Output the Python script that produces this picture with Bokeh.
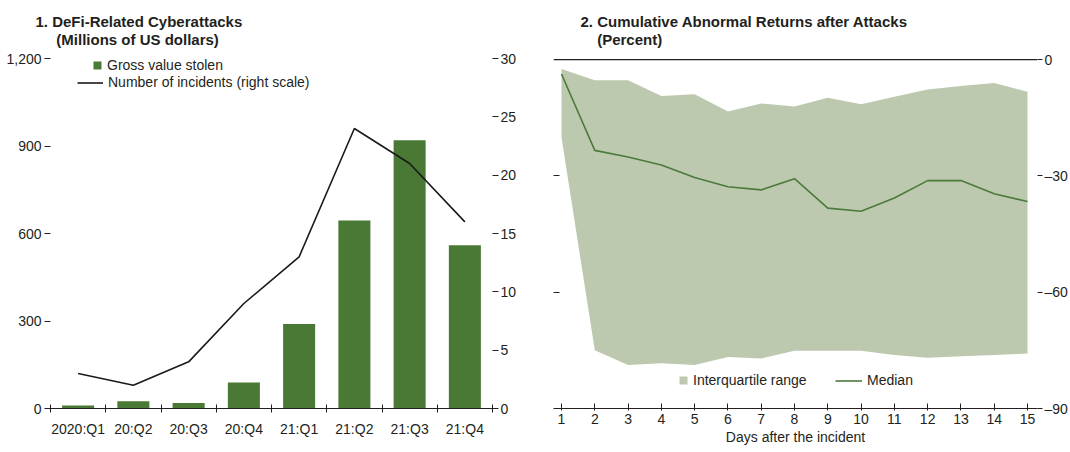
from bokeh.plotting import figure
from bokeh.models import (Range1d, LinearAxis, FixedTicker, NumeralTickFormatter,
                          Legend, LegendItem, Title, Span, ColumnDataSource)
from bokeh.layouts import row
from bokeh.embed import file_html
from bokeh.resources import INLINE

# ---------------- data ----------------
quarters = ["2020:Q1", "20:Q2", "20:Q3", "20:Q4", "21:Q1", "21:Q2", "21:Q3", "21:Q4"]
value_stolen = [10, 25, 19, 89, 290, 645, 920, 560]
incidents = [3, 2, 4, 9, 13, 24, 21, 16]

days = list(range(1, 16))
iqr_upper = [-2.4, -5.3, -5.3, -9.4, -8.9, -13.4, -11.3, -12.1, -9.8, -11.5, -9.6, -7.7, -6.8, -6.0, -8.3]
iqr_lower = [-20.0, -75.0, -78.8, -78.3, -78.8, -76.7, -77.1, -75.1, -75.1, -75.1, -76.2, -76.9, -76.5, -76.2, -75.8]
median = [-3.7, -23.4, -25.1, -27.2, -30.4, -32.8, -33.6, -30.7, -38.3, -39.1, -35.7, -31.2, -31.2, -34.6, -36.6]

left_ticks = [0, 300, 600, 900, 1200]
right_ticks = [0, 5, 10, 15, 20, 25, 30]
ret_ticks = [0, -30, -60, -90]

FONT = "Liberation Sans"
TXT = "#231f20"
BAR = "#4a7935"
BAND = "#bcc9ae"
MED = "#4c7a3c"
FS = "14px"

FRAME_H = 353


def style_axis(ax, size=FS):
    ax.major_label_text_font = FONT
    ax.major_label_text_font_size = size
    ax.major_label_text_color = TXT
    ax.axis_line_color = TXT
    ax.major_tick_line_color = TXT
    ax.minor_tick_line_color = TXT
    ax.axis_label_text_font = FONT
    ax.axis_label_text_color = TXT


def add_titles(p, line1, line2, x1, indent):
    text = line1 + "\n" + "\u00a0" * indent + line2
    p.add_layout(Title(text=text, align="left", offset=x1, text_font=FONT,
                       text_font_size="15px", text_font_style="bold",
                       text_line_height=1.05, text_color=TXT, standoff=21), "above")


def make_legend(renderer, label, x, y, gw, gh):
    return Legend(items=[LegendItem(label=label, renderers=[renderer])],
                  location=(x, y), glyph_width=gw, glyph_height=gh, label_height=17,
                  padding=0, margin=0, spacing=0, label_standoff=5, border_line_color=None,
                  background_fill_alpha=0, label_text_font=FONT, label_text_font_size=FS,
                  label_text_color=TXT, label_text_baseline="middle")


# ---------------- panel 1 ----------------
n = len(quarters)
centers = [i + 0.5 for i in range(n)]
src1 = ColumnDataSource(dict(x=centers, v=value_stolen, k=incidents))

p1 = figure(width=541, height=452, output_backend="svg", toolbar_location=None,
            x_range=Range1d(0, n), y_range=Range1d(0, 1200),
            min_border_left=50, min_border_right=49, min_border_top=55, min_border_bottom=44)
p1.extra_y_ranges = {"n": Range1d(0, 30)}
p1.grid.visible = False
p1.outline_line_color = None

bars = p1.vbar(x="x", top="v", width=0.58, source=src1, fill_color=BAR, line_color=None)
ln = p1.line(x="x", y="k", source=src1, y_range_name="n", line_color="#1a1a1a", line_width=1.6)

xa = p1.xaxis[0]
xa.ticker = FixedTicker(ticks=centers, minor_ticks=list(range(n + 1)))
xa.major_label_overrides = {c: q for c, q in zip(centers, quarters)}
xa.major_tick_in = 0
xa.major_tick_out = 0
xa.minor_tick_in = 4
xa.minor_tick_out = 4
xa.major_label_standoff = 8
style_axis(xa)

ya = p1.yaxis[0]
ya.ticker = FixedTicker(ticks=left_ticks)
ya.formatter = NumeralTickFormatter(format="0,0")
style_axis(ya)
ya.axis_line_color = None
ya.major_tick_in = 0
ya.major_tick_out = 6
ya.major_label_standoff = 3
ya.minor_tick_line_color = None

ra = LinearAxis(y_range_name="n", ticker=FixedTicker(ticks=right_ticks))
style_axis(ra)
ra.axis_line_color = None
ra.major_tick_in = 0
ra.major_tick_out = 6
ra.major_label_standoff = 2
ra.minor_tick_line_color = None
p1.add_layout(ra, "right")

p1.add_layout(make_legend(bars, "Gross value stolen", 42, FRAME_H - 18.5, 10, 10), "center")
p1.add_layout(make_legend(ln, "Number of incidents (right scale)", 27, FRAME_H - 35.5, 26, 17), "center")
add_titles(p1, "1. DeFi-Related Cyberattacks", "(Millions of US dollars)", -15, 5)

# ---------------- panel 2 ----------------
src2 = ColumnDataSource(dict(d=days, lo=iqr_lower, hi=iqr_upper, m=median))
p2 = figure(width=529, height=452, output_backend="svg", toolbar_location=None,
            x_range=Range1d(0.76, 15.3), y_range=Range1d(-90, 0.3),
            min_border_left=12, min_border_right=30, min_border_top=55, min_border_bottom=44)
p2.grid.visible = False
p2.outline_line_color = None
p2.yaxis.visible = False

band = p2.varea(x="d", y1="lo", y2="hi", source=src2, fill_color=BAND)
med = p2.line(x="d", y="m", source=src2, line_color=MED, line_width=1.6)
p2.add_layout(Span(location=0, dimension="width", line_color=TXT, line_width=1.3))

xb = p2.xaxis[0]
xb.ticker = FixedTicker(ticks=days)
style_axis(xb)
xb.major_tick_in = 5
xb.major_tick_out = 2
xb.minor_tick_line_color = None
xb.major_label_standoff = 3
xb.axis_label = "Days after the incident"
xb.axis_label_standoff = 2
xb.axis_label_text_font_style = "normal"
xb.axis_label_text_font_size = FS

la = LinearAxis(ticker=FixedTicker(ticks=[-30, -60]))
style_axis(la)
la.axis_line_color = None
la.major_tick_in = 6
la.major_tick_out = 0
la.major_label_overrides = {-30: "", -60: ""}
la.major_label_standoff = 0
la.minor_tick_line_color = None
p2.add_layout(la, "left")

rb = LinearAxis(ticker=FixedTicker(ticks=ret_ticks))
style_axis(rb)
rb.axis_line_color = None
rb.major_tick_in = 0
rb.major_tick_out = 5
rb.major_label_standoff = 2
rb.minor_tick_line_color = None
rb.major_label_overrides = {t: str(t).replace("-", "\u2013") for t in ret_ticks}
p2.add_layout(rb, "right")

p2.add_layout(make_legend(band, "Interquartile range", 125, 19.5, 10, 10), "center")
p2.add_layout(make_legend(med, "Median", 282, 19.5, 27, 17), "center")
add_titles(p2, "2. Cumulative Abnormal Returns after Attacks", "(Percent)", 27, 4)

layout = row(p1, p2)
open("out.html", "w").write(file_html(layout, INLINE))
